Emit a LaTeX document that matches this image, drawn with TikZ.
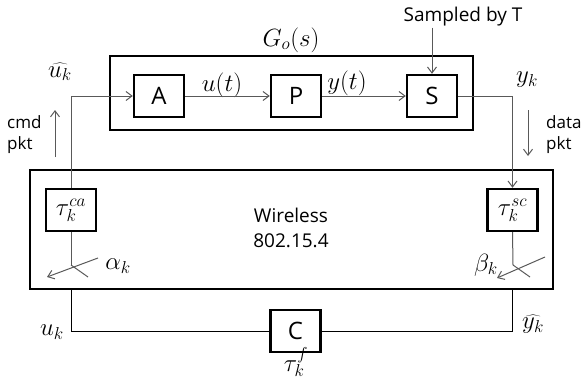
\documentclass[tikz,border=0pt]{standalone}
\usepackage{fontspec}
\setmainfont{Open Sans}
\usetikzlibrary{arrows.meta,positioning}
\begin{document}
\begin{tikzpicture}[x=1pt,y=-1pt,
  every node/.style={font=\fontsize{19}{23}\selectfont},
  blk/.style={draw=black, line width=2.4pt, minimum width=50pt, minimum height=42pt, inner sep=0pt, font=\fontsize{24}{28}\selectfont},
  tbox/.style={blk, font=\fontsize{25}{29}\selectfont},
  outer/.style={draw=black, line width=2.6pt, inner sep=0pt},
  conn/.style={draw=black!65, line width=1pt},
  bconn/.style={draw=black, line width=1pt},
  tip/.style={-{Straight Barb[length=6pt,width=9pt,line width=1pt]}},
  lbl/.style={inner sep=0pt, font=\fontsize{23}{27}\selectfont},
  small/.style={inner sep=0pt, align=left, font=\fontsize{17}{21}\selectfont}
]
\useasboundingbox (0,0) rectangle (581,380);
% outer boxes
\node[outer, minimum width=363pt, minimum height=74pt] (go) at (291.5,93) {};
\node[outer, minimum width=523pt, minimum height=119pt] (wl) at (291.5,229.5) {};
% blocks
\node[blk] (A) at (159,96) {A};
\node[blk] (P) at (296,96) {P};
\node[blk] (S) at (432,96) {S};
\node[tbox] (taca) at (71,210) {$\tau_k^{ca}$};
\node[tbox] (tasc) at (512.5,210) {$\tau_k^{sc}$};
\node[blk] (C) at (295.5,331) {C};
% labels
\node[lbl] (Go) at (291,40) {$G_o(s)$};
\node[inner sep=1pt] (samp) at (463,17) {Sampled by T};
\node[lbl] (ut) at (222,85) {$u(t)$};
\node[lbl] (yt) at (347,83) {$y(t)$};
\node[lbl] (uhat) at (60,72) {$\widehat{u_k}$};
\node[lbl] (yk) at (527,80) {$y_k$};
\node[small, anchor=west] (cmd) at (7,135) {cmd\\pkt};
\node[small, anchor=west] (data) at (546,135) {data\\pkt};
\node[align=center, inner sep=0pt, font=\fontsize{19}{25}\selectfont] (wtxt) at (291,228) {Wireless\\802.15.4};
\node[lbl] (al) at (118,266) {$\alpha_k$};
\node[lbl] (be) at (486,265) {$\beta_k$};
\node[lbl] (uk) at (52,332) {$u_k$};
\node[lbl] (yhat) at (533,324) {$\widehat{y_k}$};
\node[lbl] (tf) at (296,362) {$\tau_k^{f}$};
% coordinates
\coordinate (sa) at (71,265);
\coordinate (sb) at (513,265);
\coordinate (a1) at (98,258);
\coordinate (a2) at (47,277);
\coordinate (a3) at (88,277);
\coordinate (b1) at (545,257);
\coordinate (b2) at (497,278);
\coordinate (b3) at (530,277);
\coordinate (c1) at (55,157);
\coordinate (c2) at (55,110);
\coordinate (d1) at (528,110);
\coordinate (d2) at (528,156);
% connectors top
\draw[conn,tip] (taca.north) |- (A.west);
\draw[conn,tip] (A.east) -- (P.west);
\draw[conn,tip] (P.east) -- (S.west);
\draw[conn,tip] (S.east) -| (tasc.north);
\draw[conn,tip] (samp.south -| S.north) -- (S.north);
\draw[conn,tip] (c1) -- (c2);
\draw[conn,tip] (d1) -- (d2);
% switches
\draw[conn] (taca.south) -- (sa);
\draw[conn] (sa) -- (a3);
\draw[conn,tip] (a1) -- (a2);
\draw[conn] (tasc.south) -- (sb);
\draw[conn] (sb) -- (b3);
\draw[conn,tip] (b1) -- (b2);
% bottom
\draw[bconn] (wl.south -| taca.south) |- (C.west);
\draw[bconn] (C.east) -| (wl.south -| tasc.south);
\end{tikzpicture}
\end{document}
